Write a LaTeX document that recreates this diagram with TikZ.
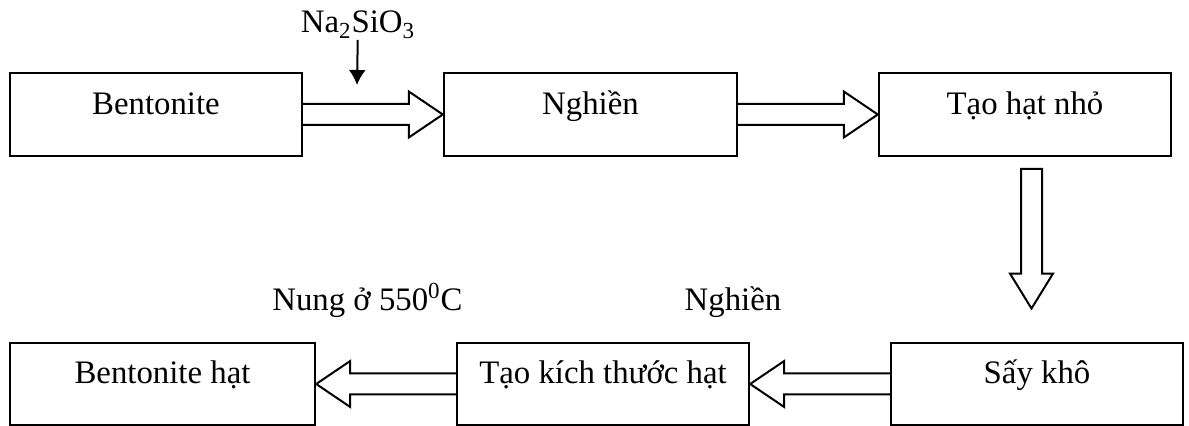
\documentclass[tikz,border=0pt]{standalone}
\usepackage{fontspec}
\setmainfont{Liberation Serif}
\usetikzlibrary{arrows.meta, positioning, calc}

\begin{document}
\begin{tikzpicture}[
    x=0.5pt, y=-0.5pt,
    box/.style={rectangle, draw, line width=1.2pt, minimum width=146pt, minimum height=41.25pt,
                text height=1ex, text depth=1ex, font=\fontsize{16.4}{20}\selectfont},
    txt/.style={anchor=base, font=\fontsize{16.4}{20}\selectfont},
    hollow/.style={line width=1pt, to path={
        ($(\tikztostart)!5.25pt!90:(\tikztotarget)$) -- ($($(\tikztotarget)!17pt!(\tikztostart)$)!5.25pt!90:(\tikztotarget)$)
        -- ($($(\tikztotarget)!17pt!(\tikztostart)$)!11.5pt!90:(\tikztotarget)$) -- (\tikztotarget)
        -- ($($(\tikztotarget)!17pt!(\tikztostart)$)!11.5pt!-90:(\tikztotarget)$)
        -- ($($(\tikztotarget)!17pt!(\tikztostart)$)!5.25pt!-90:(\tikztotarget)$) -- ($(\tikztostart)!5.25pt!-90:(\tikztotarget)$)}},
    hollowclosed/.style={hollow, to path={
        ($(\tikztostart)!5.25pt!90:(\tikztotarget)$) -- ($($(\tikztotarget)!17.5pt!(\tikztostart)$)!5.25pt!90:(\tikztotarget)$)
        -- ($($(\tikztotarget)!17.5pt!(\tikztostart)$)!10.75pt!90:(\tikztotarget)$) -- (\tikztotarget)
        -- ($($(\tikztotarget)!17.5pt!(\tikztostart)$)!10.75pt!-90:(\tikztotarget)$)
        -- ($($(\tikztotarget)!17.5pt!(\tikztostart)$)!5.25pt!-90:(\tikztotarget)$) -- ($(\tikztostart)!5.25pt!-90:(\tikztotarget)$) -- cycle}},
    addarrow/.style={-{Latex[length=7.5pt, width=8.5pt]}, line width=1pt}
]
\useasboundingbox (0,0) rectangle (1189,426);
% Top row
\node[box] (bent) at (156,114.5) {Bentonite};
\node[box, minimum width=146.5pt] (nghien) at (590.5,114.5) {Nghiền};
\node[box] (taohat) at (1025,114.5) {Tạo hạt nhỏ};
% Bottom row
\node[box, minimum width=152.5pt] (bhat) at (162.5,384) {Bentonite hạt};
\node[box] (ktc) at (603,384) {Tạo kích thước hạt};
\node[box] (say) at (1037,384) {Sấy khô};
% Additive
\node[txt, inner sep=0.5pt] (na) at (358,33) {Na\textsubscript{2}SiO\textsubscript{3}};
\coordinate (naend) at (357,85);
\draw[addarrow] (na) -- (naend);
% Arrows
\draw[hollow] (bent.east) to (nghien.west);
\draw[hollow] (nghien.east) to (taohat.west);
\coordinate (vtop) at ($(taohat.south)+(6.5,12)$);
\coordinate (vend) at ($(say.north)+(-5.5,-33)$);
\draw[hollowclosed] (vtop) to (vend);
\draw[hollow] (say.west) to (ktc.east);
\draw[hollow] (ktc.west) to (bhat.east);
% Side labels
\node[txt] (nung) at (367.5,311) {Nung ở 550\textsuperscript{0}C};
\node[txt] (nghienlbl) at (733,311) {Nghiền};
\end{tikzpicture}
\end{document}
